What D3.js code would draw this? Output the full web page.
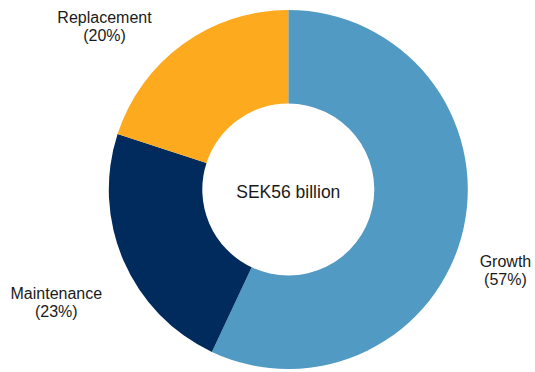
<!DOCTYPE html>
<html>
<head>
<meta charset="utf-8">
<script src="https://cdn.jsdelivr.net/npm/d3@7"></script>
<style>
  html, body { margin: 0; padding: 0; background: #ffffff; }
  svg { display: block; }
  text { font-family: "Liberation Sans", Arial, sans-serif; fill: #1a1a1a; }
</style>
</head>
<body>
<svg id="chart" width="535" height="372"></svg>
<script>
// Investment split by purpose
const categories = ["Growth", "Maintenance", "Replacement"];
const shares = [57, 23, 20];
const colors = ["#519ac3", "#002b5c", "#feaa1e"];
const centerLabel = "SEK56 billion";

const width = 535, height = 372;
const cx = 288.3, cy = 189.5;
const outerR = 179.5, innerR = 86;

const svg = d3.select("#chart");
const g = svg.append("g").attr("transform", `translate(${cx},${cy})`);

const data = categories.map((c, i) => ({ name: c, value: shares[i], color: colors[i] }));

const pie = d3.pie().value(d => d.value).sort(null);
const arcs = pie(data);

const arc = d3.arc().innerRadius(innerR).outerRadius(outerR);

g.selectAll("path.slice")
  .data(arcs)
  .join("path")
  .attr("class", "slice")
  .attr("d", arc)
  .attr("fill", d => d.data.color);

// Labels sit outside the ring, pushed from a label arc
const labelArc = d3.arc().innerRadius(230).outerRadius(230);
const nudges = { Growth: [-7.3, 27.3], Maintenance: [-20.9, 18.5], Replacement: [-48.6, 19.9] };

const labels = g.selectAll("text.label")
  .data(arcs)
  .join("text")
  .attr("class", "label")
  .attr("text-anchor", "middle")
  .style("font-size", "16px")
  .attr("transform", d => {
    const [x, y] = labelArc.centroid(d);
    const [nx, ny] = nudges[d.data.name];
    return `translate(${x + nx},${y + ny})`;
  });

labels.append("tspan").attr("x", 0).attr("y", 0).text(d => d.data.name);
labels.append("tspan").attr("x", 0).attr("y", 18).text(d => `(${d.data.value}%)`);

g.append("text")
  .attr("text-anchor", "middle")
  .attr("x", 0)
  .attr("y", 8.5)
  .style("font-size", "17.5px")
  .text(centerLabel);
</script>
</body>
</html>
